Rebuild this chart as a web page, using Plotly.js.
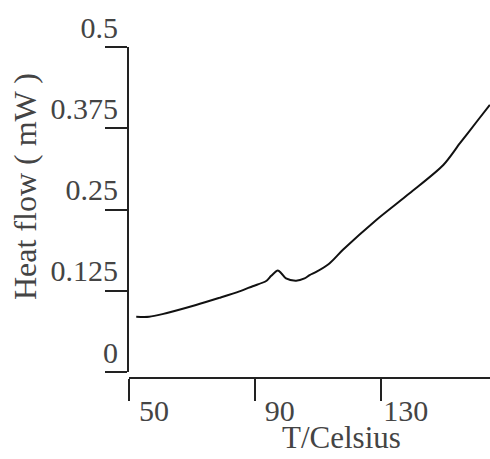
<!DOCTYPE html>
<html>
<head>
<meta charset="utf-8">
<script src="https://cdn.plot.ly/plotly-3.0.1.min.js"></script>
<style>html,body{margin:0;padding:0;background:#fff;}#chart{width:490px;height:459px;}</style>
</head>
<body>
<div id="chart"></div>
<script>
// Temperature (Celsius)
var temperature = [52.3, 56.4, 60.6, 71.3, 78.7, 85.1, 89.3, 93.6, 95.2, 97.3, 98.4, 99.9, 103.1, 105.8, 107.4, 109.5, 113.7, 118.0, 128.6, 139.2, 149.9, 155.2, 160.5, 164.7];
// Heat flow (mW)
var heatFlow = [0.085, 0.085, 0.089, 0.103, 0.114, 0.124, 0.132, 0.140, 0.148, 0.156, 0.152, 0.144, 0.1405, 0.144, 0.149, 0.154, 0.167, 0.188, 0.234, 0.275, 0.3185, 0.352, 0.385, 0.411];
var xTicks = [50, 90, 130];
var yTicks = [0, 0.125, 0.25, 0.375, 0.5];
var xTitle = 'T/Celsius';
var yTitle = 'Heat flow ( mW )';

var fontFam = '"Liberation Serif", "Times New Roman", serif';
var textCol = '#444';

var trace = {
  x: temperature,
  y: heatFlow,
  type: 'scatter',
  mode: 'lines',
  line: {color: '#111', width: 2, shape: 'spline', smoothing: 0.8},
  hoverinfo: 'none'
};

var layout = {
  width: 490,
  height: 459,
  margin: {l: 129, r: 0, t: 47, b: 81, pad: 0},
  paper_bgcolor: '#fff',
  plot_bgcolor: '#fff',
  showlegend: false,
  font: {family: fontFam, size: 30, color: textCol},
  xaxis: {
    range: [50, 164.74],
    anchor: 'free',
    position: 0,
    showgrid: false,
    zeroline: false,
    showline: true,
    linecolor: '#222',
    linewidth: 2,
    ticks: 'outside',
    ticklen: 22,
    tickwidth: 2,
    tickcolor: '#222',
    tickmode: 'array',
    tickvals: xTicks,
    ticktext: xTicks.map(String),
    ticklabelshift: 25,
    ticklabelstandoff: -16,
    tickfont: {family: fontFam, size: 30, color: textCol}
  },
  yaxis: {
    range: [0, 0.5],
    domain: [6 / 331, 1],
    anchor: 'x',
    showgrid: false,
    zeroline: false,
    showline: true,
    linecolor: '#222',
    linewidth: 2,
    ticks: 'outside',
    ticklen: 22,
    tickwidth: 2,
    tickcolor: '#222',
    tickmode: 'array',
    tickvals: yTicks,
    ticktext: yTicks.map(String),
    ticklabelshift: -20,
    ticklabelstandoff: -19,
    tickfont: {family: fontFam, size: 30, color: textCol}
  },
  annotations: [
    {text: yTitle, xref: 'paper', yref: 'paper', x: -0.288, y: 0.577, xanchor: 'center', yanchor: 'middle',
     textangle: -90, showarrow: false, font: {family: fontFam, size: 32, color: textCol}},
    {text: xTitle, xref: 'paper', yref: 'paper', x: 0.590, y: -0.180, xanchor: 'center', yanchor: 'middle',
     showarrow: false, font: {family: fontFam, size: 31, color: textCol}}
  ]
};

Plotly.newPlot('chart', [trace], layout, {displayModeBar: false, staticPlot: true});
</script>
</body>
</html>
